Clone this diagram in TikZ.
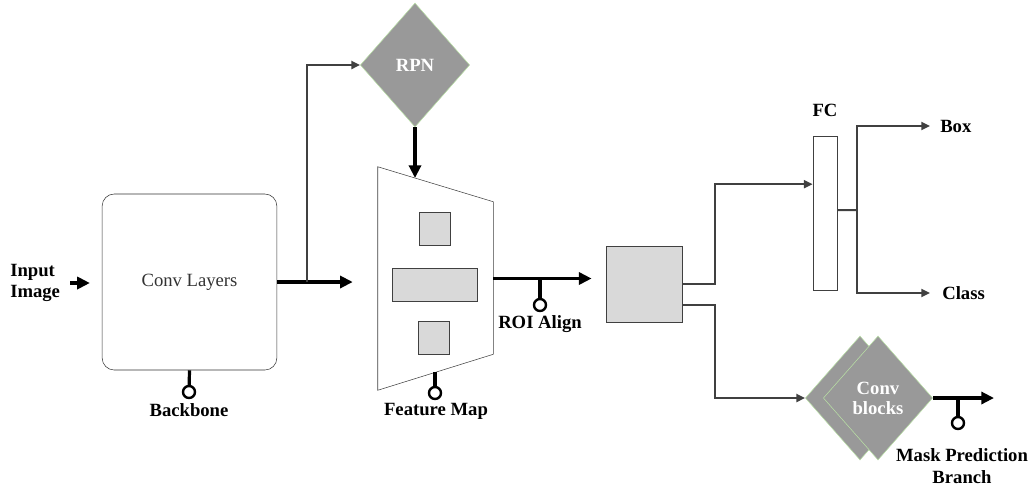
\documentclass[tikz,border=0pt]{standalone}
\usepackage{fontspec}
\setmainfont{Liberation Serif}
\usetikzlibrary{positioning,arrows.meta,shapes.geometric,calc}
\definecolor{edgegreen}{HTML}{B9E0A5}
\definecolor{boxgray}{HTML}{D9D9D9}

\begin{document}
\begin{tikzpicture}[
  x=0.75pt, y=-0.75pt,
  font=\fontsize{14}{16}\selectfont,
  lab/.style={font=\fontsize{14}{16}\selectfont\bfseries, align=center, inner sep=0pt},
  block/.style={draw=black!80, rounded corners=9pt, minimum width=131pt,
                minimum height=132pt, text=black!80},
  gate/.style={diamond, draw=edgegreen, fill=black!40, minimum width=82pt,
               minimum height=93pt, inner sep=0pt, text=white, align=center,
               font=\fontsize{14}{15}\selectfont\bfseries},
  roi/.style={draw=black!75, fill=boxgray, semithick, inner sep=0pt},
  blk/.style={line width=2.4pt, -{Triangle[length=9.5pt,width=9pt]}},
  gry/.style={draw=black!75, line width=1.5pt, -{Triangle[length=6.5pt,width=6pt]}},
  pinline/.style={line width=2.4pt},
  pinhead/.style={circle, draw, line width=1.8pt, fill=white, minimum size=9pt, inner sep=0pt}
]
  \useasboundingbox (0,0) rectangle (1034,487);

  % backbone
  \node[lab, anchor=west, align=left] (input) at (10,283) {Input\\Image};
  \node[block] (conv) at (189.5,282) {Conv Layers};
  \draw[blk, shorten <=7.5pt, shorten >=9pt] (input.east) -- (input.east -| conv.west);
  \node[pinhead] (bbpin) at (189,392) {};
  \draw[pinline] (conv.south) -- (bbpin);
  \node[lab] (bblbl) at (189,410) {Backbone};

  % feature map (trapezoid drawn on an empty frame node)
  \node[minimum width=86.25pt, minimum height=167.25pt, inner sep=0pt] (fm) at (435.5,278.5) {};
  \draw[draw=black!75, thin] (fm.north west) -- ([yshift=-26.25pt]fm.north east)
    -- ([yshift=27pt]fm.south east) -- (fm.south west) -- cycle;
  \node[roi, minimum width=23.25pt, minimum height=24.75pt] (cellA) at (434.5,228.5) {};
  \node[roi, minimum width=63.75pt, minimum height=24.75pt] (cellB) at (434.5,284.5) {};
  \node[roi, minimum width=23.25pt, minimum height=24.75pt] (cellC) at (433.5,337.5) {};

  \coordinate (split) at (307,282);
  \draw[blk, shorten >=18.75pt] (conv.east) -- (conv.east -| fm.west);

  % region proposals
  \node[gate] (rpn) at (415,65) {RPN};
  \draw[gry] (split) |- (rpn.west);
  \coordinate (fmtop) at (415,178);
  \draw[blk] (rpn.south) -- (fmtop);

  \coordinate (fmfoot) at (435,372);
  \node[pinhead] (fmpin) at (435,393) {};
  \draw[pinline] (fmfoot) -- (fmpin);
  \node[lab] (fmlbl) at (436,411) {Feature Map};

  % ROI align
  \node[roi, minimum width=57pt, minimum height=57pt] (pool) at (644,284) {};
  \draw[blk, shorten >=10.5pt] (fm.east) -- (fm.east -| pool.west);
  \coordinate (roisplit) at (540,278.5);
  \node[pinhead] (roipin) at (540,305) {};
  \draw[pinline] (roisplit) -- (roipin);
  \node[lab] (roilbl) at (540,324) {ROI Align};

  % box / class head
  \node[draw=black!75, semithick, fill=white, minimum width=18pt,
        minimum height=116pt, inner sep=0pt] (fc) at (825,213.5) {};
  \node[lab] (fclbl) at (825,110) {FC};
  \draw[gry] (pool.east) -- ++(33,0) |- ([yshift=22pt]fc.west);

  \coordinate (fcsplit) at (857,210);
  \node[lab, anchor=west] (boxlbl) at (940,126) {Box};
  \node[lab, anchor=west] (clslbl) at (942,293) {Class};
  \draw[draw=black!75, line width=1.5pt] ([yshift=2.6pt]fc.east) -- (fcsplit);
  \draw[gry, shorten >=7.5pt] (fcsplit) |- (boxlbl.west);
  \draw[gry, shorten >=9pt] (fcsplit) |- (clslbl.west);

  % mask head
  \node[gate] (convbk) at (860,398) {};
  \node[gate] (convb) at (878,398) {Conv\\blocks};
  \draw[gry] ([yshift=-15.75pt]pool.east) -- ++(33,0) |- (convbk.west);

  \coordinate (maskend) at (994,398);
  \draw[blk] (convb.east) -- (maskend);
  \coordinate (masksplit) at (958,398);
  \node[pinhead] (maskpin) at (958,423) {};
  \draw[pinline] (masksplit) -- (maskpin);
  \node[lab] (masklbl) at (962,466) {Mask Prediction\\Branch};
\end{tikzpicture}
\end{document}
